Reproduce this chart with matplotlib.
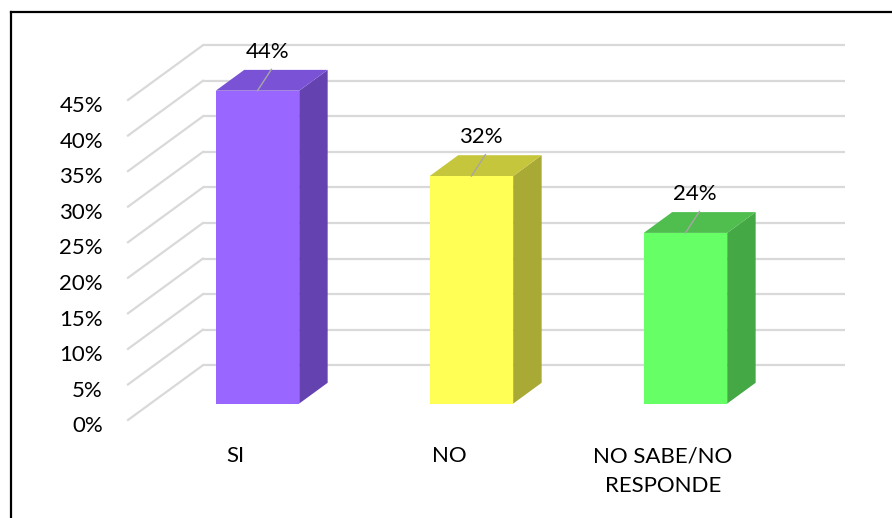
import matplotlib
matplotlib.use("Agg")
import matplotlib.pyplot as plt
import matplotlib.transforms as mtransforms
from matplotlib.patches import Polygon
from matplotlib.lines import Line2D
from matplotlib.ticker import PercentFormatter

plt.rcParams['font.family'] = ['Lato', 'DejaVu Sans']

# data
categories = ['SI', 'NO', 'NO SABE/NO\nRESPONDE']
values = [44, 32, 24]
y_ticks = [0, 5, 10, 15, 20, 25, 30, 35, 40, 45]

front_colors = ['#9966FF', '#FFFF55', '#66FF66']
top_colors = ['#7A52D6', '#C6C63C', '#4FBE4F']
side_colors = ['#6443B0', '#A9A935', '#44A844']

# fake 3d geometry (oblique projection in data units)
depth_dx = 0.35     # category units
depth_dy = 7.7      # percent units
bar_front = 0.30    # fraction of depth where bar front sits
bar_depth = 0.38    # bar depth as fraction of full depth
bar_width = 0.39
grid_color = '#D9D9D9'

fig = plt.figure(figsize=(8.92, 5.18), dpi=100)
W, H = 892, 518
ax = fig.add_axes([128 / W, (H - 420) / H, 642 / W, 320 / H])
ax.set_xlim(-0.5, len(categories) - 0.5)
ax.set_ylim(0, 45)
for s in ax.spines.values():
    s.set_visible(False)
ax.patch.set_visible(False)

x_left, x_right = -0.5, len(categories) - 0.5

# back wall gridlines and side wall diagonals
for v in y_ticks:
    ax.plot([x_left + depth_dx, x_right + depth_dx], [v + depth_dy, v + depth_dy],
            color=grid_color, lw=1.6, zorder=1, clip_on=False, solid_capstyle='butt')
    ax.plot([x_left, x_left + depth_dx], [v, v + depth_dy],
            color=grid_color, lw=1.6, zorder=1, clip_on=False)

# bars
for i, v in enumerate(values):
    ox = bar_front * depth_dx
    oy = bar_front * depth_dy
    bx = bar_depth * depth_dx
    by = bar_depth * depth_dy
    xl = i - bar_width / 2 + ox
    xr = i + bar_width / 2 + ox
    y0 = oy
    y1 = v + oy
    front = Polygon([(xl, y0), (xr, y0), (xr, y1), (xl, y1)], closed=True,
                    facecolor=front_colors[i], edgecolor='none', zorder=3, clip_on=False)
    side = Polygon([(xr, y0), (xr + bx, y0 + by), (xr + bx, y1 + by), (xr, y1)], closed=True,
                   facecolor=side_colors[i], edgecolor='none', zorder=2, clip_on=False)
    top = Polygon([(xl, y1), (xr, y1), (xr + bx, y1 + by), (xl + bx, y1 + by)], closed=True,
                  facecolor=top_colors[i], edgecolor='none', zorder=2, clip_on=False)
    for p in (side, top, front):
        ax.add_patch(p)

    # data label with leader line
    cx = i + ox
    ax.plot([cx, cx + 0.065], [y1, y1 + 3.0], color='#A6A6A6', lw=1.0, zorder=4, clip_on=False)
    ax.text(cx + 0.045, y1 + 5.5, f'{v}%', ha='center', va='center',
            fontsize=16, color='black', zorder=5)

ax.set_yticks(y_ticks)
ax.yaxis.set_major_formatter(PercentFormatter(decimals=0))
ax.set_xticks(range(len(categories)))
ax.set_xticklabels(categories, linespacing=1.6, va='top')
ax.tick_params(axis='y', length=0, pad=18, labelsize=16, labelcolor='black')
ax.tick_params(axis='x', length=0, pad=19, labelsize=16, labelcolor='black')

# nudge y tick labels slightly down, like the source
shift = mtransforms.ScaledTranslation(0, -3 / 72, fig.dpi_scale_trans)
for lab in ax.get_yticklabels():
    lab.set_transform(lab.get_transform() + shift)

# outer frame (clipped at right and bottom like the source)
fig.add_artist(Line2D([11 / W, 1.0], [1 - 12 / H, 1 - 12 / H], color='black', lw=1.6,
                      transform=fig.transFigure))
fig.add_artist(Line2D([11 / W, 11 / W], [0.0, 1 - 12 / H], color='black', lw=1.6,
                      transform=fig.transFigure))

fig.savefig('out.png', dpi=100)
